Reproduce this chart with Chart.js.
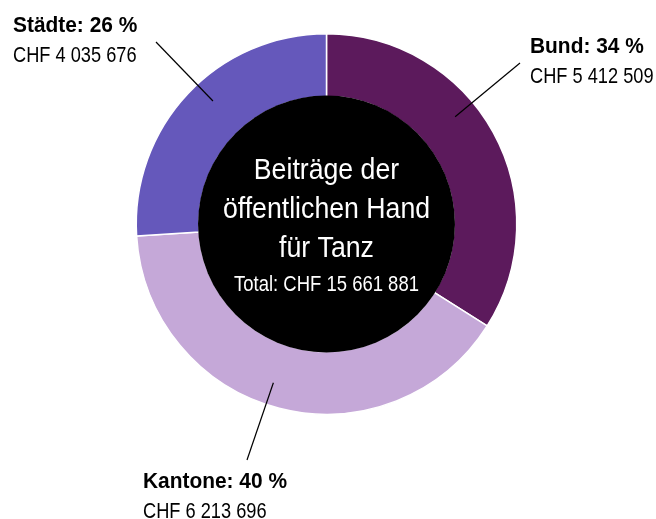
<!DOCTYPE html>
<html>
<head>
<meta charset="utf-8">
<script src="https://cdn.jsdelivr.net/npm/chart.js@4/dist/chart.umd.min.js"></script>
<style>
html,body{margin:0;padding:0;background:#fff;}
canvas{display:block;}
</style>
</head>
<body>
<canvas id="c" width="656" height="519"></canvas>
<script>
const categories = ["Bund", "Kantone", "Städte"];
const percents = [34, 40, 26];
const amountLabels = ["CHF 5 412 509", "CHF 6 213 696", "CHF 4 035 676"];
const colors = ["#5c1a5c", "#c5a8d8", "#6558bb"];
const centerLines = ["Beiträge der", "öffentlichen Hand", "für Tanz"];
const totalLabel = "Total: CHF 15 661 881";

const FONT = '"Liberation Sans", Arial, sans-serif';

// label layout (annotation text positions and leader line ends)
const labelLayout = [
  {angleOffset: -11, lineEnd: [520, 63], text: [530, 53]},
  {angleOffset: 4.1, lineEnd: [247, 460], text: [143, 488]},
  {angleOffset: 4.1, lineEnd: [156, 42], text: [13, 32]}
];

function drawText(ctx, text, x, y, font, sx, align) {
  ctx.save();
  ctx.font = font;
  ctx.textAlign = align;
  ctx.textBaseline = "alphabetic";
  ctx.translate(x, y);
  ctx.scale(sx, 1);
  ctx.fillText(text, 0, 0);
  ctx.restore();
}

const overlay = {
  id: "overlay",
  afterDatasetsDraw(chart) {
    const ctx = chart.ctx;
    const meta = chart.getDatasetMeta(0);
    const a0 = meta.data[0];
    const cx = a0.x, cy = a0.y;
    const inner = a0.innerRadius, outer = a0.outerRadius;
    ctx.save();
    ctx.beginPath();
    ctx.arc(cx, cy, inner + 1, 0, Math.PI * 2);
    ctx.fillStyle = "#000";
    ctx.fill();
    ctx.fillStyle = "#fff";
    const base = [cy - 45, cy - 6, cy + 33];
    centerLines.forEach((t, i) => drawText(ctx, t, cx, base[i], "29px " + FONT, 0.92, "center"));
    drawText(ctx, totalLabel, cx, cy + 67, "22px " + FONT, 0.84, "center");
    meta.data.forEach((arc, i) => {
      const L = labelLayout[i];
      const mid = (arc.startAngle + arc.endAngle) / 2 + L.angleOffset * Math.PI / 180;
      const r = outer * 0.88;
      const sx = cx + Math.cos(mid) * r, sy = cy + Math.sin(mid) * r;
      ctx.beginPath();
      ctx.moveTo(sx, sy);
      ctx.lineTo(L.lineEnd[0], L.lineEnd[1]);
      ctx.strokeStyle = "#000";
      ctx.lineWidth = 1.2;
      ctx.stroke();
      ctx.fillStyle = "#000";
      drawText(ctx, categories[i] + ": " + percents[i] + " %", L.text[0], L.text[1], "bold 22px " + FONT, 0.95, "left");
      drawText(ctx, amountLabels[i], L.text[0], L.text[1] + 30, "22.5px " + FONT, 0.81, "left");
    });
    ctx.restore();
  }
};

new Chart(document.getElementById("c"), {
  type: "doughnut",
  data: {
    labels: categories,
    datasets: [{
      data: percents,
      backgroundColor: colors,
      borderColor: "#ffffff",
      borderWidth: 1.5,
      hoverOffset: 0
    }]
  },
  options: {
    responsive: false,
    animation: false,
    devicePixelRatio: 1,
    cutout: "67%",
    layout: {padding: {top: 33, bottom: 104, left: 0, right: 3}},
    plugins: {legend: {display: false}, tooltip: {enabled: false}}
  },
  plugins: [overlay]
});
</script>
</body>
</html>
